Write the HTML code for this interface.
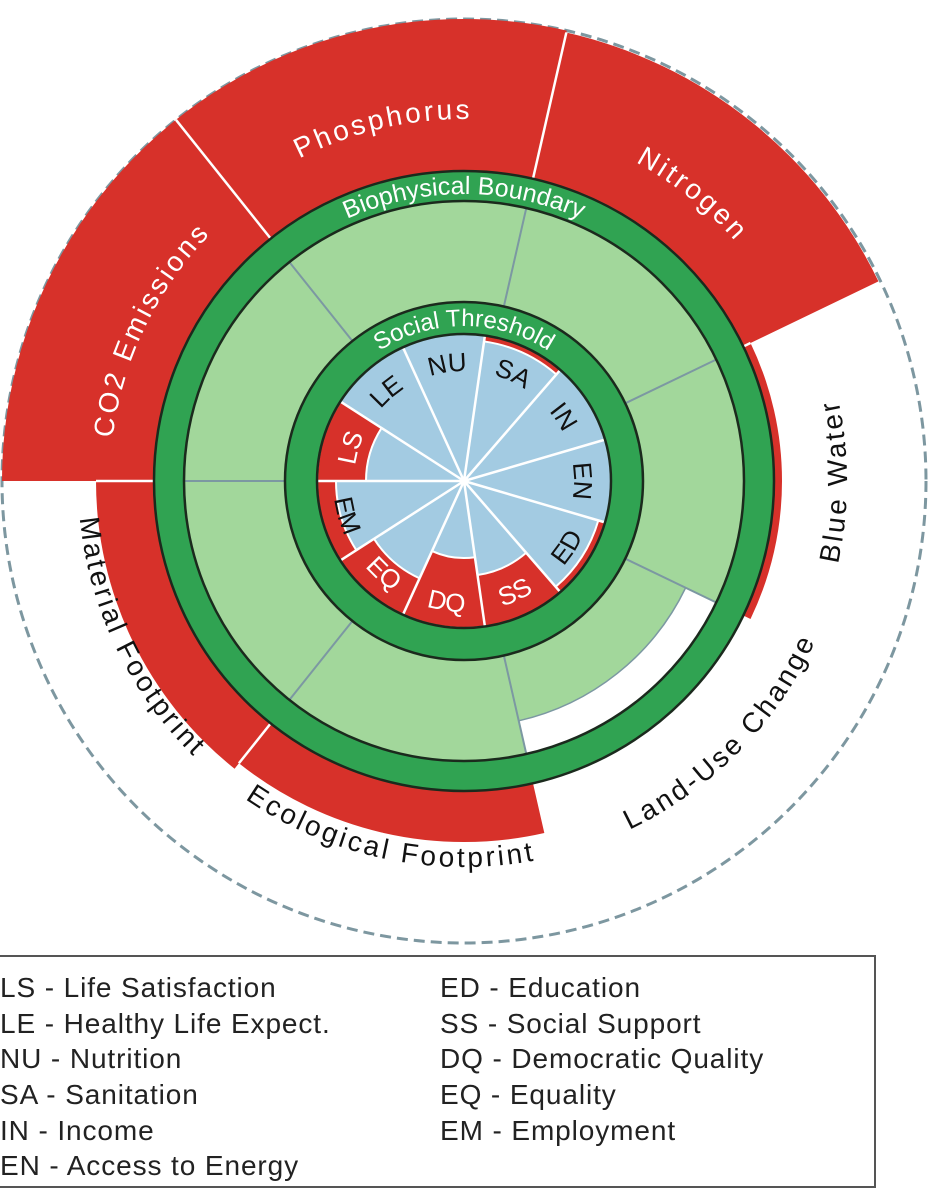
<!DOCTYPE html>
<html><head><meta charset="utf-8">
<style>
html,body{margin:0;padding:0;background:#fff;width:935px;height:1200px;overflow:hidden}
svg{display:block}
.lg{font-family:"Liberation Sans",sans-serif;font-size:28px;letter-spacing:0.9px;fill:#222}
.out{font-family:"Liberation Sans",sans-serif;font-size:28px;letter-spacing:3px}
.soc{font-family:"Liberation Sans",sans-serif;font-size:26px}
</style></head><body>
<svg id="s" width="935" height="1200" viewBox="0 0 935 1200" xmlns="http://www.w3.org/2000/svg">
<defs id="d"></defs>
<g id="g"></g>
<g id="t">
<text class="out" fill="#fff"><textPath href="#pCO2" startOffset="50%" text-anchor="middle">CO2 Emissions</textPath></text>
<text class="out" fill="#fff"><textPath href="#pPH" startOffset="50%" text-anchor="middle">Phosphorus</textPath></text>
<text class="out" fill="#fff"><textPath href="#pNI" startOffset="50%" text-anchor="middle">Nitrogen</textPath></text>
<text class="out" fill="#111"><textPath href="#pBW" startOffset="50%" text-anchor="middle">Blue Water</textPath></text>
<text class="out" fill="#111"><textPath href="#pLU" startOffset="50%" text-anchor="middle">Land-Use Change</textPath></text>
<text class="out" fill="#111"><textPath href="#pEF" startOffset="50%" text-anchor="middle">Ecological Footprint</textPath></text>
<text class="out" fill="#111"><textPath href="#pMF" startOffset="50%" text-anchor="middle">Material Footprint</textPath></text>
<text fill="#fff" style="font-family:'Liberation Sans',sans-serif;font-size:25px"><textPath href="#pBB" startOffset="50%" text-anchor="middle">Biophysical Boundary</textPath></text>
<text fill="#fff" style="font-family:'Liberation Sans',sans-serif;font-size:24px"><textPath href="#pST" startOffset="50%" text-anchor="middle">Social Threshold</textPath></text>
<text class="soc" fill="#fff"><textPath href="#sLS" startOffset="50%" text-anchor="middle">LS</textPath></text>
<text class="soc" fill="#111"><textPath href="#sLE" startOffset="50%" text-anchor="middle">LE</textPath></text>
<text class="soc" fill="#111"><textPath href="#sNU" startOffset="50%" text-anchor="middle">NU</textPath></text>
<text class="soc" fill="#111"><textPath href="#sSA" startOffset="50%" text-anchor="middle">SA</textPath></text>
<text class="soc" fill="#111"><textPath href="#sIN" startOffset="50%" text-anchor="middle">IN</textPath></text>
<text class="soc" fill="#111"><textPath href="#sEN" startOffset="50%" text-anchor="middle">EN</textPath></text>
<text class="soc" fill="#111"><textPath href="#sED" startOffset="50%" text-anchor="middle">ED</textPath></text>
<text class="soc" fill="#fff"><textPath href="#sSS" startOffset="50%" text-anchor="middle">SS</textPath></text>
<text class="soc" fill="#fff"><textPath href="#sDQ" startOffset="50%" text-anchor="middle">DQ</textPath></text>
<text class="soc" fill="#fff"><textPath href="#sEQ" startOffset="50%" text-anchor="middle">EQ</textPath></text>
<text class="soc" fill="#111"><textPath href="#sEM" startOffset="50%" text-anchor="middle">EM</textPath></text>
</g>
<rect x="-2" y="956" width="877" height="231" fill="none" stroke="#555" stroke-width="2"/>
<text class="lg" x="0" y="997">LS - Life Satisfaction</text>
<text class="lg" x="0" y="1033">LE - Healthy Life Expect.</text>
<text class="lg" x="0" y="1068">NU - Nutrition</text>
<text class="lg" x="0" y="1104">SA - Sanitation</text>
<text class="lg" x="0" y="1140">IN - Income</text>
<text class="lg" x="0" y="1175">EN - Access to Energy</text>
<text class="lg" x="440" y="997">ED - Education</text>
<text class="lg" x="440" y="1033">SS - Social Support</text>
<text class="lg" x="440" y="1068">DQ - Democratic Quality</text>
<text class="lg" x="440" y="1104">EQ - Equality</text>
<text class="lg" x="440" y="1140">EM - Employment</text>
</svg>
<script>
var CX=464,CY=481,NS="http://www.w3.org/2000/svg";
var g=document.getElementById('g'),d=document.getElementById('d');
function P(r,a){a=a*Math.PI/180;return [(CX+r*Math.sin(a)).toFixed(2),(CY-r*Math.cos(a)).toFixed(2)];}
function el(t,at,par){var e=document.createElementNS(NS,t);for(var k in at)e.setAttribute(k,at[k]);(par||g).appendChild(e);return e;}
function sector(r0,r1,a1,a2,fill,stroke,sw){
 var A=P(r1,a1),B=P(r1,a2),C=P(r0,a2),D=P(r0,a1),lg=(a2-a1)>180?1:0;
 var s='M'+A+' A'+r1+' '+r1+' 0 '+lg+' 1 '+B+' L'+C;
 if(r0>0)s+=' A'+r0+' '+r0+' 0 '+lg+' 0 '+D;
 s+=' Z';el('path',{d:s,fill:fill,stroke:stroke||'none','stroke-width':sw||0});}
function line(r0,r1,a,c,w){var A=P(r0,a),B=P(r1,a);el('line',{x1:A[0],y1:A[1],x2:B[0],y2:B[1],stroke:c,'stroke-width':w});}
function circ(r,fill,stroke,sw,extra){var o={cx:CX,cy:CY,r:r,fill:fill,stroke:stroke||'none','stroke-width':sw||0};for(var k in extra)o[k]=extra[k];el('circle',o);}
function arcPath(id,r,a1,a2,cw){var s;
 if(cw){var A=P(r,a1),B=P(r,a2);s='M'+A+' A'+r+' '+r+' 0 0 1 '+B;}
 else{var A=P(r,a2),B=P(r,a1);s='M'+A+' A'+r+' '+r+' 0 0 0 '+B;}
 el('path',{id:id,d:s,fill:'none'},d);}
var RED='#d7312a',LG='#a2d79b',DG='#30a352',BL='#a3cbe2',OL='#1b2a1d',SEP='#7c98a2';
circ(462,'none','#7d97a0',3,{'stroke-dasharray':'11 6'});
var bw=360/7,b0=270;
var bR=[462,462,460,318,0,361,368];
var bG=[280,280,280,280,246,280,280];
for(var i=0;i<7;i++){var a1=b0+i*bw,a2=a1+bw;
 if(bR[i]>0)sector(310,bR[i],a1,a2,RED);
 sector(179,bG[i],a1,a2,LG);
 if(bG[i]<280)el('path',{d:'M'+P(bG[i],a1)+' A'+bG[i]+' '+bG[i]+' 0 0 1 '+P(bG[i],a2),fill:'none',stroke:SEP,'stroke-width':1.5});
}
for(var i=0;i<7;i++){var a=b0+i*bw;line(179,280,a,SEP,2);
 var mn=Math.min(bR[i],bR[(i+6)%7]);
 if(mn>310)line(310,mn,a,'#fff',2.5);}
circ(295,'none',DG,30);circ(280,'none',OL,2.5);circ(310,'none',OL,2.5);
var sw=360/11,s0=270;
var sB=[98,146,146,141,146,146,140,95,77,107,128];
for(var i=0;i<11;i++){var a1=s0+i*sw,a2=a1+sw;
 if(sB[i]<146)sector(0,146,a1,a2,RED);
 sector(0,sB[i],a1,a2,BL);
 if(sB[i]<146)el('path',{d:'M'+P(sB[i],a1)+' A'+sB[i]+' '+sB[i]+' 0 0 1 '+P(sB[i],a2),fill:'none',stroke:'#fff','stroke-width':2});}
for(var i=0;i<11;i++)line(0,146,s0+i*sw,'#fff',2.5);
circ(163,'none',DG,32);circ(147,'none',OL,2.5);circ(179,'none',OL,2.5);
arcPath('pCO2',354,b0+1,b0+bw-1,true);
arcPath('pPH',362,b0+bw,b0+2*bw,true);
arcPath('pNI',362,b0+2*bw,b0+3*bw,true);
arcPath('pBW',383,b0+3*bw,b0+4*bw,false);
arcPath('pLU',386,b0+4*bw-12,b0+5*bw-2,false);
arcPath('pEF',386,b0+5*bw-8,b0+6*bw+6,false);
arcPath('pMF',386,b0+6*bw,b0+7*bw,false);
arcPath('pBB',287,-50,50,true);
arcPath('pST',155,-50,50,true);
var sn=['sLS','sLE','sNU','sSA','sIN','sEN','sED','sSS','sDQ','sEQ','sEM'];
for(var i=0;i<11;i++){var a1=s0+i*sw,a2=a1+sw,mid=((a1+a2)/2)%360;
 var cw=!(mid>95&&mid<265);
 arcPath(sn[i],cw?110:131,a1,a2,cw);}
</script>
</body></html>
